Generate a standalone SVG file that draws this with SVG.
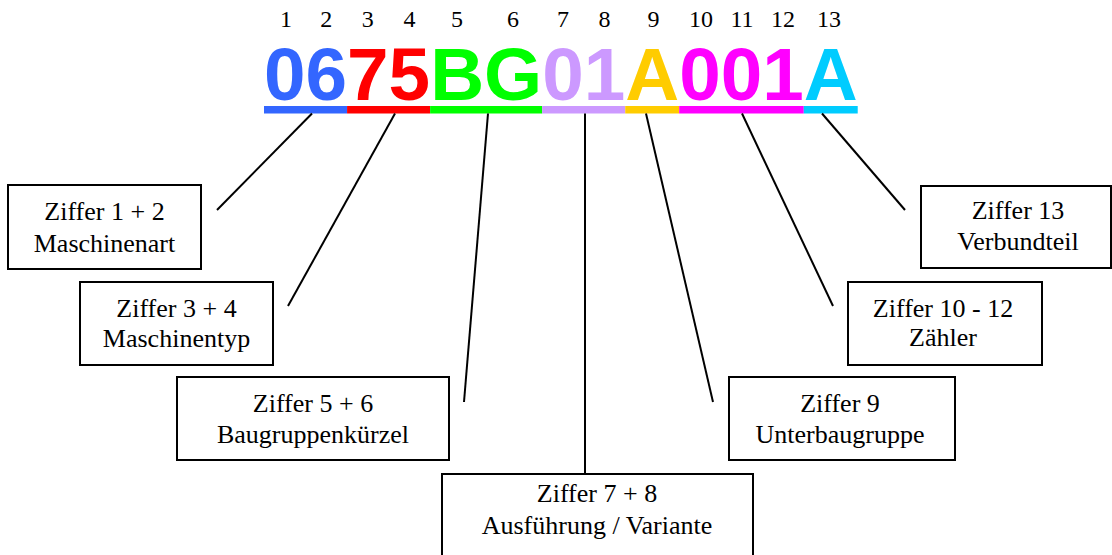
<svg xmlns="http://www.w3.org/2000/svg" width="1112" height="555" viewBox="0 0 1112 555">
<style>
.code{font-family:"Liberation Sans",Arial,sans-serif;font-weight:bold;font-size:74.7px}
.num{font-family:"Liberation Serif","Times New Roman",serif;font-size:24px;fill:#000;text-anchor:middle}
.lbl{font-family:"Liberation Serif","Times New Roman",serif;font-size:26px;fill:#000;text-anchor:middle}
.box{fill:#fff;stroke:#000;stroke-width:2}
.con{stroke:#000;stroke-width:2;fill:none}
</style>
<rect width="1112" height="555" fill="#fff"/>
<g id="digits">
<text class="num" y="27"><tspan x="286">1</tspan><tspan x="326.3">2</tspan><tspan x="367.8">3</tspan><tspan x="409.4">4</tspan><tspan x="457.1">5</tspan><tspan x="513.1">6</tspan><tspan x="563">7</tspan><tspan x="604.5">8</tspan><tspan x="653.5">9</tspan><tspan x="701">10</tspan><tspan x="742">11</tspan><tspan x="783">12</tspan><tspan x="829">13</tspan></text>
</g>
<g id="code">
<text class="code" x="264" y="99.5" fill="#3366FF">06</text>
<text class="code" x="347.07" y="99.5" fill="#FF0000">75</text>
<text class="code" x="430.13" y="99.5" fill="#00FF00">BG</text>
<text class="code" x="542.18" y="99.5" fill="#CC99FF">01</text>
<text class="code" x="625.25" y="99.5" fill="#FFCC00">A</text>
<text class="code" x="679.18" y="99.5" fill="#FF00FF">001</text>
<text class="code" x="803.78" y="99.5" fill="#00CCFF">A</text>
<rect x="264" y="106" width="83.07" height="7.5" fill="#3366FF"/>
<rect x="347.07" y="106" width="83.06" height="7.5" fill="#FF0000"/>
<rect x="430.13" y="106" width="112.05" height="7.5" fill="#00FF00"/>
<rect x="542.18" y="106" width="83.07" height="7.5" fill="#CC99FF"/>
<rect x="625.25" y="106" width="53.93" height="7.5" fill="#FFCC00"/>
<rect x="679.18" y="106" width="124.6" height="7.5" fill="#FF00FF"/>
<rect x="803.78" y="106" width="53.93" height="7.5" fill="#00CCFF"/>
</g>
<g id="connectors">
<line class="con" x1="312" y1="113.5" x2="217" y2="210"/>
<line class="con" x1="395" y1="113.5" x2="288" y2="306"/>
<line class="con" x1="488" y1="113.5" x2="464" y2="402"/>
<line class="con" x1="585" y1="113.5" x2="585" y2="474"/>
<line class="con" x1="646" y1="113.5" x2="713" y2="402"/>
<line class="con" x1="742" y1="113.5" x2="833" y2="306"/>
<line class="con" x1="822" y1="113.5" x2="905" y2="210"/>
</g>
<g id="box1">
<rect class="box" x="8" y="185" width="193" height="84"/>
<text class="lbl" x="104.5" y="220">Ziffer 1 + 2</text>
<text class="lbl" x="104.5" y="251.5">Maschinenart</text>
</g>
<g id="box2">
<rect class="box" x="80" y="282" width="193" height="83"/>
<text class="lbl" x="176.5" y="316.5">Ziffer 3 + 4</text>
<text class="lbl" x="176.5" y="347">Maschinentyp</text>
</g>
<g id="box3">
<rect class="box" x="177" y="377" width="272" height="83"/>
<text class="lbl" x="313" y="412">Ziffer 5 + 6</text>
<text class="lbl" x="313" y="443">Baugruppenkürzel</text>
</g>
<g id="box4">
<rect class="box" x="442" y="474" width="311" height="100"/>
<text class="lbl" x="597" y="502">Ziffer 7 + 8</text>
<text class="lbl" x="597" y="534">Ausführung / Variante</text>
</g>
<g id="box5">
<rect class="box" x="729" y="377" width="226" height="83"/>
<text class="lbl" x="840" y="412">Ziffer 9</text>
<text class="lbl" x="840" y="443">Unterbaugruppe</text>
</g>
<g id="box6">
<rect class="box" x="848" y="282" width="194" height="83"/>
<text class="lbl" x="943" y="317">Ziffer 10 - 12</text>
<text class="lbl" x="943" y="346">Zähler</text>
</g>
<g id="box7">
<rect class="box" x="921" y="186" width="190" height="82"/>
<text class="lbl" x="1018" y="219">Ziffer 13</text>
<text class="lbl" x="1018" y="250">Verbundteil</text>
</g>
</svg>
